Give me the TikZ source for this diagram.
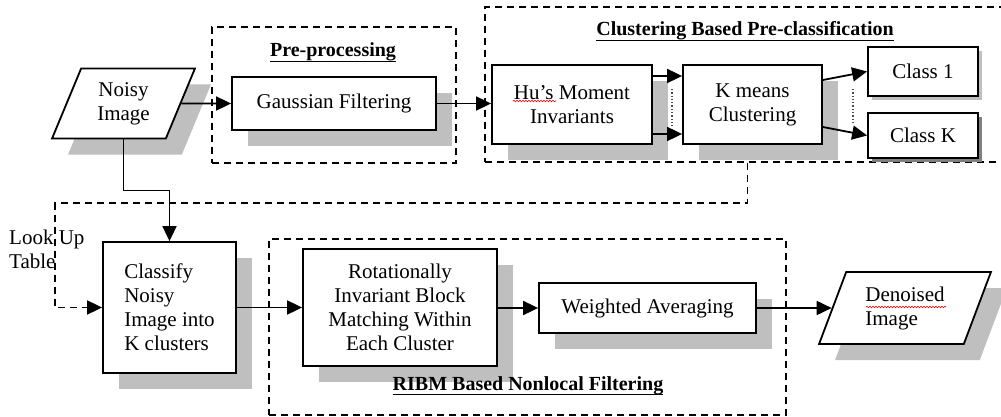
\documentclass[tikz,border=0pt]{standalone}
\usepackage{fontspec}
\setmainfont{Liberation Serif}
\usetikzlibrary{arrows.meta,shapes.geometric,shadows,calc,decorations.pathmorphing}

\begin{document}
\begin{tikzpicture}[x=1pt,y=-1pt,
  every node/.style={font=\fontsize{21}{24}\selectfont},
  box/.style={draw, line width=1.8pt, fill=white, rectangle, inner sep=0pt, align=center},
  shadebig/.style={drop shadow={shadow xshift=16pt, shadow yshift=-16pt, fill=black!25, opacity=1}},
  shadesmall/.style={drop shadow={shadow xshift=4pt, shadow yshift=-4pt, fill=black!25, opacity=1}},
  shadedark/.style={drop shadow={shadow xshift=4pt, shadow yshift=-4pt, fill=black!50, opacity=1}},
  io/.style={draw, line width=1.8pt, fill=white, trapezium, trapezium left angle=67,
    trapezium right angle=113, trapezium stretches=true, inner sep=0pt},
  group/.style={draw, dash pattern=on 7pt off 5pt, line width=1.8pt, rectangle, inner sep=0pt},
  title/.style={font=\fontsize{20}{24}\selectfont\bfseries, inner sep=0pt, anchor=base},
  flow/.style={line width=1.8pt, -{Triangle[length=15pt,width=14pt]}},
  dashflow/.style={flow, dash pattern=on 7pt off 5pt},
  ellip/.style={dotted, line width=1.3pt, black!70},
  spell/.style={red, line width=0.6pt, decorate, decoration={snake, amplitude=0.8pt, segment length=3pt}}
]
\useasboundingbox (0,0) rectangle (1001,417);

% dashed stage frames
\node[group, minimum width=244pt, minimum height=136pt] (pre) at (334,95) {};
\node[group, minimum width=525pt, minimum height=155pt] (clu) at (747.5,84.5) {};
\node[group, minimum width=517pt, minimum height=176pt] (ribm) at (527.5,327) {};

% processing blocks
\node[io, shadebig, minimum width=143pt, minimum height=70pt, align=center] (noisy) at (123.5,103.5) {Noisy\\Image};
\node[box, shadebig, minimum width=204pt, minimum height=53pt] (gauss) at (334,103.5) {Gaussian Filtering};
\node[box, shadebig, minimum width=160pt, minimum height=79pt] (hu) at (572,104.5) {Hu’s Moment\\Invariants};
\node[box, shadebig, minimum width=139pt, minimum height=79pt] (km) at (752.5,104.5) {K means\\Clustering};
\node[box, shadesmall, minimum width=110pt, minimum height=49pt] (c1) at (923,71.5) {Class 1};
\node[box, shadedark, minimum width=110pt, minimum height=45pt] (ck) at (923,135.5) {Class K};
\node[box, shadebig, minimum width=133pt, minimum height=131pt, align=left] (classify) at (169.5,307.5) {Classify\\Noisy\\Image into\\K clusters};
\node[box, shadebig, minimum width=194pt, minimum height=117pt] (rot) at (400,307.5) {Rotationally\\Invariant Block\\Matching Within\\Each Cluster};
\node[box, shadebig, minimum width=217pt, minimum height=50pt] (wavg) at (647.5,308) {Weighted Averaging};
\node[io, shadebig, minimum width=172pt, minimum height=72pt, align=left] (denoised) at (905,308) {Denoised\\Image};

\node[anchor=north west, align=left, inner sep=0pt] (lut) at (9,230) {Look Up\\Table};

% stage titles
\node[title] (tpre) at (333,57) {Pre-processing};
\draw[line width=1pt] (tpre.south west) -- (tpre.south east);
\node[title] (tclu) at (745,36) {Clustering Based Pre-classification};
\draw[line width=1pt] (tclu.south west) -- (tclu.south east);
\node[title] (tribm) at (528,390) {RIBM Based Nonlocal Filtering};
\draw[line width=1pt] (tribm.south west) -- (tribm.south east);

% connectors
\draw[flow] (noisy) -- (gauss);
\draw[flow] (gauss.east) -- (gauss.east -| hu.west);
\draw[flow] ([yshift=28.5pt]hu.east) -- ([yshift=28.5pt]km.west);
\draw[flow] ([yshift=-29.5pt]hu.east) -- ([yshift=-29.5pt]km.west);
\draw[flow] ([yshift=24.5pt]km.east) -- (c1.west);
\draw[flow] ([yshift=-22.5pt]km.east) -- (ck.west);
\draw[flow] (noisy.center |- noisy.south) -- ++(0,51) -| (classify.north);
\coordinate (lkc) at ($(classify.west)+(-47,0)$);
\draw[dashflow] (clu.south) -- ++(0,40) -| (lkc) -- (classify.west);
\draw[flow] (classify.east) -- (classify.east -| rot.west);
\draw[flow] (rot.east |- wavg.west) -- (wavg.west);
\draw[flow] (wavg) -- (denoised);

% ellipsis marks between parallel arrows
\draw[ellip] (672,89) -- (672,126);
\draw[ellip] (853,89) -- (853,125);

% spell-check underlines
\draw[spell] (513,101) -- (556,101);
\draw[spell] (866,307) -- (946,307);
\end{tikzpicture}
\end{document}
